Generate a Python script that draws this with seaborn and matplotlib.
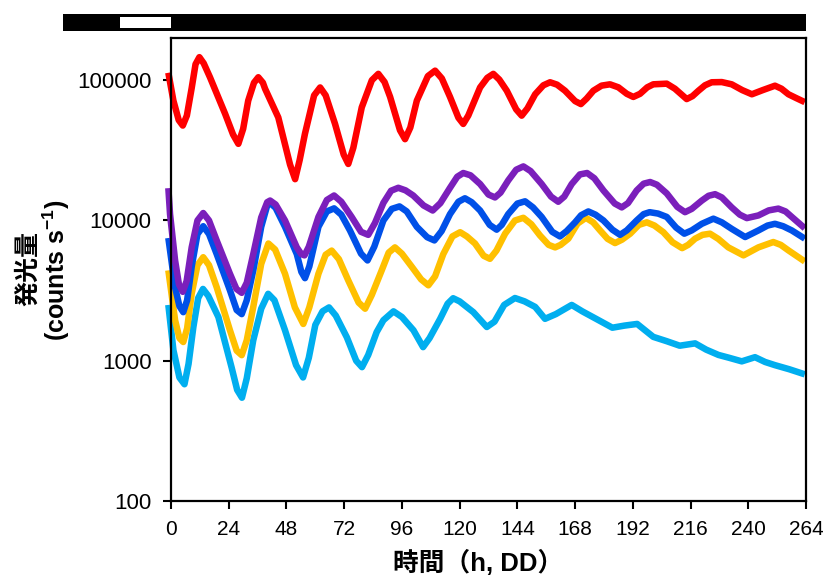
import matplotlib
matplotlib.use("Agg")
import matplotlib.pyplot as plt
import matplotlib.transforms as mtransforms
from matplotlib.patches import Rectangle
from matplotlib.ticker import NullLocator
import pandas as pd
import seaborn as sns

# ---------------- data ----------------
red_time = [-1.1, 1.0, 3.2, 4.9, 6.6, 8.6, 10.2, 11.8, 13.6, 16.2, 22.5, 25.8, 28.0, 30.0, 32.1,
            34.5, 36.3, 38.2, 39.1, 44.6, 49.5, 51.6, 53.5, 55.7, 59.5, 62.0, 64.3, 68.2, 71.8,
            73.7, 75.8, 79.3, 83.5, 86.2, 88.8, 91.1, 95.2, 97.3, 99.5, 102.2, 106.8, 109.8,
            112.6, 116.0, 119.5, 121.5, 123.6, 128.5, 131.5, 134.0, 136.5, 139.6, 143.5, 145.8,
            148.2, 151.4, 154.8, 157.6, 160.5, 163.8, 168.0, 170.4, 172.8, 175.6, 179.0, 182.5,
            186.0, 189.5, 192.2, 195.0, 198.0, 200.5, 206.1, 209.5, 214.4, 216.8, 219.3, 222.0,
            224.8, 229.0, 233.1, 237.5, 241.5, 246.0, 251.1, 253.8, 256.7, 260.0, 263.5]
red_counts = [113000, 71500, 52000, 47500, 56000, 88000, 130000, 146000, 132000, 105000, 57600,
              41000, 35200, 45000, 71500, 96000, 105000, 96000, 87000, 54300, 25000, 19700,
              27000, 41600, 78000, 88800, 78000, 48800, 29500, 25300, 33000, 64000, 100000,
              111000, 97000, 76000, 44000, 38000, 46000, 71500, 107000, 117000, 103000, 76000,
              54000, 48800, 56000, 88800, 104000, 111000, 101000, 84200, 62000, 55900, 63000,
              79400, 92000, 96700, 93000, 84200, 71000, 67600, 74000, 84200, 91500, 93500,
              89000, 80000, 76000, 80000, 89000, 93500, 94500, 87000, 73400, 77000, 84200,
              92000, 96700, 97000, 93500, 85000, 79400, 85000, 91400, 87000, 79400, 74500,
              69800]

purple_time = [-1.1, -0.4, 1.7, 3.3, 4.9, 6.5, 8.6, 11.0, 13.4, 15.8, 19.0, 24.5, 27.2, 29.4,
               31.5, 34.2, 37.5, 40.0, 41.2, 43.5, 47.4, 52.3, 54.2, 55.5, 57.3, 61.3, 64.8,
               67.8, 70.8, 75.1, 79.0, 82.0, 84.8, 88.3, 91.5, 94.5, 97.5, 100.7, 105.0, 108.8,
               112.0, 116.0, 119.0, 121.5, 124.5, 128.5, 132.0, 134.7, 137.0, 140.2, 143.5,
               146.5, 149.5, 154.1, 158.0, 161.0, 163.5, 166.6, 170.0, 173.0, 176.0, 179.8,
               184.5, 187.4, 190.0, 193.6, 196.5, 199.2, 202.0, 206.1, 210.5, 213.7, 216.5,
               220.7, 223.5, 226.2, 229.0, 233.1, 236.5, 239.4, 244.2, 248.5, 252.5, 255.5,
               258.1, 263.5]
purple_counts = [17000, 11100, 5190, 3500, 3100, 3700, 6430, 10000, 11300, 10000, 7200, 4170,
                 3250, 3050, 3600, 5760, 10500, 13500, 13870, 13000, 10000, 6430, 5750, 5640,
                 6500, 10600, 14000, 15070, 13600, 10600, 8300, 7900, 9600, 13350, 16300, 17100,
                 16400, 15070, 12800, 11780, 13300, 17100, 20500, 21800, 21000, 18200, 15300,
                 14600, 15800, 19300, 23000, 24300, 22500, 18200, 14800, 13600, 14800, 18200,
                 21300, 21800, 20000, 16360, 13200, 12400, 13300, 16360, 18300, 18800, 18000,
                 15600, 12500, 11460, 12100, 13870, 15000, 15400, 14600, 12400, 11000, 10400,
                 10860, 11800, 12150, 11600, 10600, 8800]

blue_time = [-1.1, 1.7, 3.5, 5.1, 6.7, 8.6, 11.0, 13.4, 15.8, 19.0, 24.5, 27.3, 29.4, 31.5, 34.2,
             37.5, 40.0, 41.2, 43.5, 47.4, 52.3, 54.2, 55.7, 57.5, 61.3, 64.8, 67.8, 70.8, 74.4,
             79.0, 81.7, 84.5, 88.3, 91.8, 95.0, 98.0, 102.2, 106.5, 109.5, 112.5, 116.0, 119.5,
             122.2, 125.0, 128.5, 132.5, 135.4, 137.5, 140.2, 144.0, 147.2, 150.5, 154.1, 158.5,
             161.7, 164.5, 168.0, 170.5, 173.5, 176.5, 179.8, 183.5, 186.7, 189.5, 193.6, 196.5,
             199.0, 202.5, 206.1, 210.0, 213.4, 216.5, 220.7, 225.5, 229.0, 233.1, 238.7, 244.2,
             248.0, 251.1, 254.5, 258.1, 263.5]
blue_counts = [7500, 3340, 2450, 2220, 2700, 4680, 8000, 9100, 8000, 5760, 3180, 2300, 2150, 2700,
               4410, 9000, 12800, 13350, 12300, 9010, 5760, 4300, 3880, 4700, 9010, 11600, 12200,
               11000, 8490, 5800, 5190, 6500, 10000, 12100, 12600, 11600, 9010, 7600, 7210, 8400,
               11100, 13600, 14400, 13500, 11780, 9300, 8600, 9300, 11100, 13200, 13700, 12400,
               10600, 8300, 7700, 8400, 9700, 10900, 11600, 11000, 10000, 8600, 7900, 8500,
               10000, 11100, 11460, 11200, 10600, 8900, 8050, 8500, 9470, 10300, 9700, 8720,
               7620, 8490, 9200, 9470, 9100, 8490, 7420]

yellow_time = [-1.1, 1.7, 3.5, 5.1, 6.7, 8.6, 11.0, 13.4, 15.8, 19.0, 24.5, 27.3, 29.4, 31.5,
               34.2, 37.5, 40.5, 43.3, 47.4, 51.5, 55.0, 57.5, 61.3, 64.3, 66.8, 69.8, 73.7, 78.0,
               80.7, 83.5, 87.6, 90.5, 93.1, 96.0, 100.1, 104.0, 107.0, 109.8, 113.2, 117.0,
               120.2, 123.0, 126.4, 130.0, 132.6, 135.3, 138.9, 143.0, 146.5, 149.8, 153.4,
               157.0, 159.7, 162.0, 165.2, 169.0, 172.5, 175.5, 178.4, 181.5, 184.6, 187.5,
               190.9, 194.5, 197.8, 201.0, 204.7, 208.5, 212.5, 215.0, 217.9, 221.0, 224.1,
               227.5, 231.7, 238.0, 244.2, 250.4, 253.5, 256.7, 263.5]
yellow_counts = [4410, 1945, 1450, 1360, 1700, 3010, 4800, 5470, 4800, 3340, 1650, 1180, 1096,
                 1400, 2420, 4900, 6850, 6200, 4170, 2400, 1830, 2400, 4170, 5700, 6100, 5300,
                 3740, 2600, 2350, 2950, 4410, 5900, 6430, 5800, 4680, 3800, 3450, 4000, 5760,
                 7700, 8250, 7700, 6850, 5600, 5330, 6100, 8050, 10000, 10450, 9400, 7820, 6700,
                 6430, 6700, 7420, 9500, 10450, 9700, 8490, 7400, 6900, 7300, 8050, 9300, 9700,
                 9200, 8250, 7000, 6350, 6700, 7420, 7900, 8050, 7400, 6430, 5640, 6430, 7020,
                 6700, 6120, 5100]

cyan_time = [-1.1, 1.0, 3.5, 5.6, 7.3, 9.3, 11.3, 13.3, 15.5, 19.7, 25.2, 27.5, 29.5, 31.5, 34.2,
             37.5, 40.4, 43.0, 47.4, 52.0, 54.9, 57.3, 60.0, 63.0, 65.7, 68.5, 73.1, 77.0, 79.4,
             82.0, 85.5, 88.3, 92.5, 96.0, 100.8, 104.8, 107.5, 111.9, 115.0, 117.3, 120.0,
             125.7, 131.3, 134.5, 138.5, 143.0, 147.0, 151.4, 155.5, 160.0, 166.6, 171.0, 176.5,
             183.5, 188.5, 193.8, 200.5, 206.0, 211.5, 217.9, 222.5, 227.6, 232.0, 237.3, 242.8,
             247.0, 251.1, 257.0, 263.5]
cyan_counts = [2500, 1190, 760, 680, 950, 1740, 2800, 3250, 2900, 2050, 895, 620, 545, 750, 1400,
               2350, 3000, 2700, 1650, 930, 760, 1050, 1800, 2250, 2400, 2100, 1470, 1000, 900,
               1100, 1600, 1945, 2250, 2050, 1650, 1250, 1450, 1990, 2550, 2790, 2650, 2220,
               1740, 1900, 2500, 2800, 2650, 2420, 1990, 2150, 2500, 2250, 2000, 1720, 1780,
               1830, 1480, 1380, 1280, 1330, 1200, 1100, 1050, 990, 1060, 980, 930, 870, 800]

x_ticks = [0, 24, 48, 72, 96, 120, 144, 168, 192, 216, 240, 264]
y_ticks = [100, 1000, 10000, 100000]
y_tick_labels = ["100", "1000", "10000", "100000"]

# light/dark schedule bar above the plot (hours)
bar_dark = (-45, 264)
bar_light = (-21, 0)

series = {
    "A": (red_time, red_counts, "#FF0000"),
    "B": (cyan_time, cyan_counts, "#00AEEF"),
    "C": (yellow_time, yellow_counts, "#FFC000"),
    "D": (blue_time, blue_counts, "#0050E8"),
    "E": (purple_time, purple_counts, "#7B1FBB"),
}

rows = []
for name, (t, c, _) in series.items():
    for ti, ci in zip(t, c):
        rows.append({"series": name, "time": ti, "counts": ci})
df = pd.DataFrame(rows)
palette = {k: v[2] for k, v in series.items()}

# ---------------- style ----------------
sns.set_theme(style="ticks")
plt.rcParams["font.family"] = ["Liberation Sans", "Noto Sans CJK JP", "DejaVu Sans"]
plt.rcParams["text.color"] = "black"
plt.rcParams["mathtext.fontset"] = "custom"
plt.rcParams["mathtext.rm"] = "Liberation Sans"
plt.rcParams["mathtext.bf"] = "Liberation Sans:bold"
plt.rcParams["mathtext.default"] = "bf"

W, H = 823, 578
fig = plt.figure(figsize=(W / 100, H / 100), dpi=100)
ax = fig.add_axes([171 / W, 1 - 501 / H, 635 / W, 463 / H])

sns.lineplot(data=df, x="time", y="counts", hue="series", hue_order=list(series.keys()),
             palette=palette, estimator=None, sort=False, legend=False, linewidth=4.7, ax=ax)
for ln in ax.lines:
    ln.set_clip_on(False)
    ln.set_solid_joinstyle("round")
    ln.set_solid_capstyle("butt")

ax.set_yscale("log")
ax.set_ylim(100, 200000)
ax.set_xlim(0, 264)
ax.yaxis.set_minor_locator(NullLocator())
ax.set_yticks(y_ticks)
ax.set_yticklabels(y_tick_labels)
ax.set_xticks(x_ticks)
ax.set_xticklabels([str(v) for v in x_ticks])
ax.set_xlabel("")
ax.set_ylabel("")
for s in ax.spines.values():
    s.set_visible(True)
    s.set_color("black")
    s.set_linewidth(1.6)
ax.tick_params(direction="out", length=6, width=1.5, colors="black", pad=8)
ax.tick_params(axis="x", labelsize=15)
ax.tick_params(axis="y", labelsize=16)

# schedule bar
tr = mtransforms.blended_transform_factory(ax.transData, fig.transFigure)
ax.add_patch(Rectangle((bar_dark[0], 1 - 31 / H), bar_dark[1] - bar_dark[0], 17 / H,
                       transform=tr, facecolor="black", edgecolor="none", clip_on=False))
ax.add_patch(Rectangle((bar_light[0], 1 - 28 / H), bar_light[1] - bar_light[0], 11 / H,
                       transform=tr, facecolor="white", edgecolor="none", clip_on=False))

# labels
fig.text(478 / W, 1 - 563 / H, "時間（h, DD）", ha="center", va="center", color="black",
         fontsize=18.5, fontweight="bold",
         family=["Liberation Sans", "Noto Sans CJK JP"])
fig.text(28 / W, 1 - 268 / H, "発光量", ha="center", va="center", rotation=90, color="black",
         fontsize=18, fontweight="bold", family=["Noto Sans CJK JP", "Liberation Sans"])
fig.text(56 / W, 1 - 270 / H, "(counts s$^{-1}$)", ha="center", va="center", rotation=90,
         color="black", fontsize=18, fontweight="bold",
         family=["Liberation Sans", "Noto Sans CJK JP"])

fig.savefig("out.png", dpi=100)
